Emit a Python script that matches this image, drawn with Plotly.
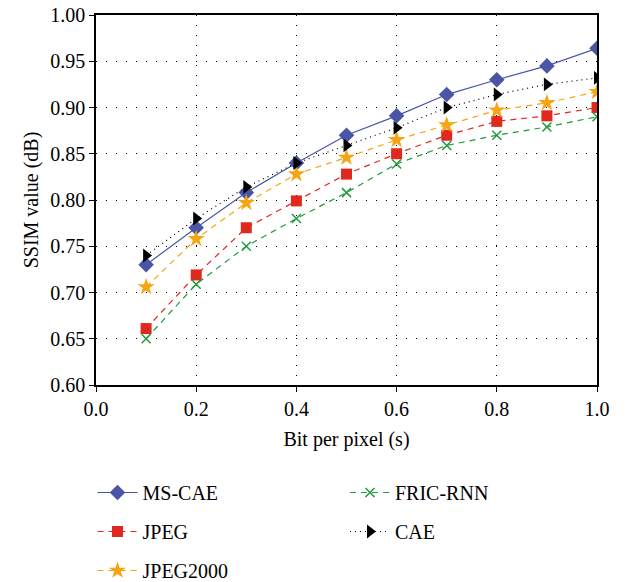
import plotly.graph_objects as go

bpp = [0.1, 0.2, 0.3, 0.4, 0.5, 0.6, 0.7, 0.8, 0.9, 1.0]
ms_cae = [0.730, 0.770, 0.808, 0.840, 0.870, 0.891, 0.914, 0.930, 0.945, 0.964]
jpeg = [0.661, 0.719, 0.770, 0.799, 0.828, 0.850, 0.870, 0.885, 0.891, 0.900]
jpeg2000 = [0.706, 0.758, 0.797, 0.828, 0.846, 0.865, 0.881, 0.897, 0.905, 0.917]
fric_rnn = [0.650, 0.709, 0.750, 0.780, 0.808, 0.839, 0.859, 0.870, 0.879, 0.890]
cae = [0.740, 0.780, 0.814, 0.840, 0.859, 0.878, 0.900, 0.914, 0.925, 0.932]

x_ticks = [0.0, 0.2, 0.4, 0.6, 0.8, 1.0]
y_ticks = [0.60, 0.65, 0.70, 0.75, 0.80, 0.85, 0.90, 0.95, 1.00]

FONT = "Liberation Serif"

series = [
    ("MS-CAE", ms_cae, "#4a55a8", "solid", "diamond", 12, "legend"),
    ("JPEG", jpeg, "#e0281e", "6px,5px", "square", 11, "legend"),
    ("JPEG2000", jpeg2000, "#f5a512", "6px,5px", "star", 13, "legend"),
    ("FRIC-RNN", fric_rnn, "#1f9a3e", "6px,5px", "x-thin-open", 9, "legend2"),
    ("CAE", cae, "#000000", "1px,4px", "triangle-right", 12, "legend2"),
]

fig = go.Figure()
for name, ys, color, dash, sym, size, leg in series:
    marker = dict(symbol=sym, size=size, color=color)
    if sym == "x-thin-open":
        marker["line"] = dict(color=color, width=1.5)
    fig.add_trace(go.Scatter(
        x=bpp, y=ys, name=name, mode="lines+markers",
        line=dict(color=color, width=1.2, dash=dash),
        marker=marker, legend=leg, legendgroup=name,
    ))

axis_common = dict(
    showline=True, linecolor="black", linewidth=1.5, mirror=True,
    ticks="outside", ticklen=5, tickcolor="black", tickwidth=1.2,
    showgrid=True, gridcolor="black", gridwidth=1, griddash="1px,9px",
    zeroline=False, ticklabeloverflow="allow", automargin=False,
    tickfont=dict(family=FONT, size=20, color="black"),
    title_font=dict(family=FONT, size=20, color="black"),
)

fig.update_xaxes(range=[0, 1.0], tickmode="array", tickvals=x_ticks,
                 ticktext=[f"{v:.1f}" for v in x_ticks],
                 title_text="Bit per pixel (s)", title_standoff=13, **axis_common)
fig.update_yaxes(range=[0.6, 1.0], tickmode="array", tickvals=y_ticks,
                 ticktext=[f"{v:.2f}" for v in y_ticks],
                 title_text="SSIM value (dB)", title_standoff=6, **axis_common)

leg_common = dict(
    font=dict(family=FONT, size=20, color="black"),
    bgcolor="rgba(0,0,0,0)", orientation="v", tracegroupgap=10,
    xanchor="left", yanchor="top", itemwidth=40,
)
fig.update_layout(
    width=620, height=620,
    margin=dict(l=88, r=31, t=7, b=243),
    plot_bgcolor="white", paper_bgcolor="white",
    legend=dict(x=-0.007, y=-0.2378, **leg_common),
    legend2=dict(x=0.497, y=-0.2378, **leg_common),
)

fig.write_html("out.html")
